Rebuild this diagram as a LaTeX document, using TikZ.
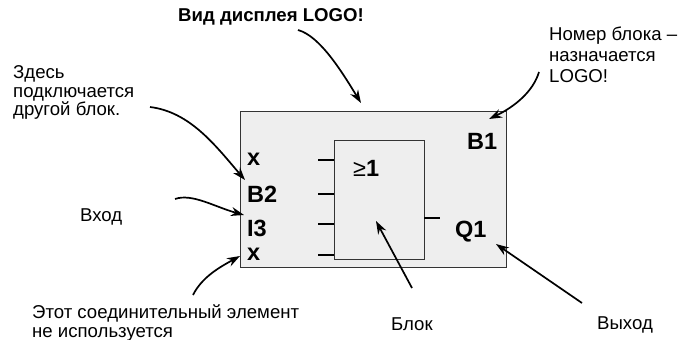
\documentclass[tikz,border=0pt]{standalone}
\usepackage{fontspec}
\setmainfont{Liberation Sans}
\usepackage{xcolor}
\usetikzlibrary{arrows.meta}
\definecolor{panelgray}{HTML}{EEEEEE}
\definecolor{edgegray}{HTML}{333333}

\begin{document}
\begin{tikzpicture}[x=1pt,y=-1pt,
  note/.style={anchor=west,align=left,inner sep=0pt,font=\fontsize{18.6}{18.6}\selectfont},
  pin/.style={anchor=west,inner sep=0pt,font=\fontsize{23.5}{24}\selectfont\bfseries},
  stub/.style={line width=2pt,black},
  pointer/.style={line width=1.7pt,black,-{Stealth[length=13pt,width=9pt]}}]
\useasboundingbox (0,0) rectangle (678,340);

% panels
\node[draw=edgegray,line width=0.9pt,fill=panelgray,minimum width=266pt,minimum height=156pt,inner sep=0pt] (display) at (373.2,189.2) {};
\node[draw=edgegray,line width=0.8pt,fill=panelgray,minimum width=89.5pt,minimum height=119.5pt,inner sep=0pt] (block) at (379.2,199.7) {};

% texts
\node[note,font=\fontsize{18.6}{18}\selectfont\bfseries] (title) at (178,17) {Вид дисплея LOGO!};
\node[note] (here) at (13,92.5) {Здесь\\подключается\\другой блок.};
\node[note,font=\fontsize{18.6}{21}\selectfont] (number) at (549,55) {Номер блока --\\назначается\\LOGO!};
\node[note] (input) at (80,217) {Вход};
\node[note] (unused) at (32,323) {Этот соединительный элемент\\не используется};
\node[note] (blocktext) at (391,324.5) {Блок};
\node[note] (output) at (597,324.5) {Выход};

% pins
\node[pin] (pinx) at (247,159) {x};
\node[pin] (pinb) at (247,194.5) {B2};
\node[pin] (pini) at (247,228) {I3};
\node[pin] (piny) at (247,254) {x};
\node[pin] (pinq) at (455,232) {Q1};
\node[pin] (pinn) at (467,141) {B1};
\node[anchor=west,inner sep=0pt,font=\fontsize{23.5}{24}\selectfont] (ge) at (353,168) {≥\textbf{1}};

% stubs on the block
\foreach \name/\ypos in {a/160,b/194,c/224,d/255}{
  \coordinate (stub\name) at (318,\ypos);
  \draw[stub] (stub\name) -- (block.west |- stub\name);
}
\coordinate (stubout) at (440,218);
\draw[stub] (block.east |- stubout) -- (stubout);

% pointers
\coordinate (titlefrom) at (298,30);
\coordinate (titleto) at (361,103);
\coordinate (numberfrom) at (539,72);
\coordinate (numberto) at (489,119);
\coordinate (herefrom) at (150,107);
\coordinate (hereto) at (245,180);
\coordinate (inputfrom) at (175,199);
\coordinate (inputto) at (244,215);
\coordinate (unusedfrom) at (193,295);
\coordinate (unusedto) at (240,256);
\coordinate (blockfrom) at (412,288);
\coordinate (blockto) at (376,221);
\coordinate (outputfrom) at (582,303);
\coordinate (outputto) at (496,244);

\draw[pointer] (titlefrom) .. controls (320,36) and (342,72) .. (titleto);
\draw[pointer] (numberfrom) .. controls (533,92) and (514,107) .. (numberto);
\draw[pointer] (herefrom) .. controls (190,112) and (215,145) .. (hereto);
\draw[pointer] (inputfrom) .. controls (192,193) and (215,207) .. (inputto);
\draw[pointer] (unusedfrom) .. controls (202,277) and (220,267) .. (unusedto);
\draw[pointer] (blockfrom) -- (blockto);
\draw[pointer] (outputfrom) -- (outputto);
\end{tikzpicture}
\end{document}
